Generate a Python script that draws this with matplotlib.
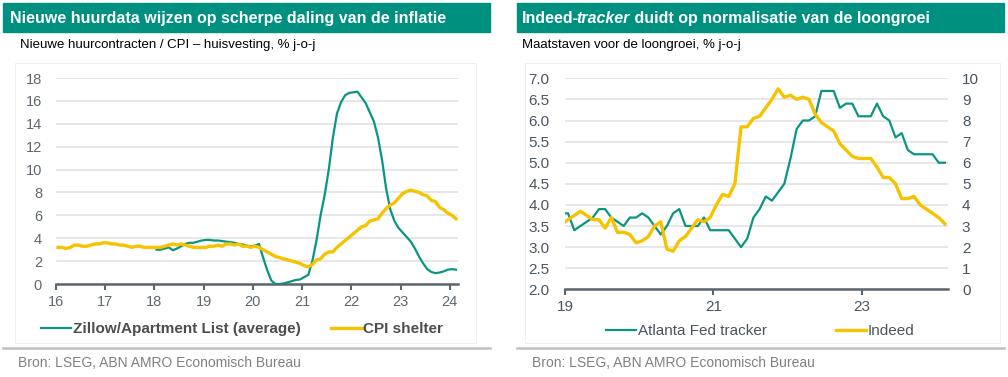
import numpy as np
import matplotlib
matplotlib.use('Agg')
import matplotlib.pyplot as plt
from matplotlib.patches import Rectangle
from matplotlib.lines import Line2D

plt.rcParams['font.family'] = ['Liberation Sans', 'DejaVu Sans']

# ---- data: left chart (monthly, % y/y) ----
cpi_start = 2016  # Jan 2016 .. Feb 2024
cpi_shelter = [3.2, 3.2, 3.1, 3.2, 3.4, 3.4, 3.3, 3.3, 3.4, 3.5, 3.5, 3.6,
               3.6, 3.5, 3.5, 3.4, 3.4, 3.3, 3.2, 3.3, 3.3, 3.2, 3.2, 3.2,
               3.2, 3.2, 3.3, 3.4, 3.5, 3.4, 3.5, 3.4, 3.3, 3.2, 3.2, 3.2,
               3.2, 3.3, 3.3, 3.4, 3.3, 3.5, 3.5, 3.4, 3.5, 3.3, 3.3, 3.2,
               3.3, 3.2, 3.0, 2.8, 2.6, 2.4, 2.3, 2.2, 2.1, 2.0, 1.9, 1.8,
               1.6, 1.5, 1.7, 2.1, 2.2, 2.6, 2.8, 2.8, 3.2, 3.5, 3.8, 4.1,
               4.4, 4.7, 5.0, 5.1, 5.5, 5.6, 5.7, 6.2, 6.6, 6.9, 7.1, 7.5,
               7.9, 8.1, 8.2, 8.1, 8.0, 7.8, 7.7, 7.3, 7.2, 6.7, 6.5, 6.2,
               6.0, 5.7]
zillow_start = 2018  # Jan 2018 .. Feb 2024
zillow = [3.0, 3.0, 3.1, 3.2, 2.95, 3.1, 3.3, 3.5, 3.6, 3.6, 3.7, 3.8,
          3.85, 3.85, 3.8, 3.8, 3.75, 3.7, 3.65, 3.6, 3.5, 3.45, 3.35, 3.3,
          3.35, 3.5, 2.3, 1.2, 0.3, 0.0, 0.0, 0.05, 0.15, 0.25, 0.35, 0.4,
          0.6, 0.8, 2.0, 3.8, 6.0, 7.8, 10.0, 12.8, 14.9, 15.9, 16.5, 16.7,
          16.75, 16.8, 16.3, 15.8, 15.0, 14.2, 12.8, 10.8, 8.3, 6.5, 5.5, 4.9,
          4.5, 4.1, 3.7, 3.1, 2.4, 1.8, 1.3, 1.05, 0.95, 1.0, 1.1, 1.25,
          1.3, 1.25]
left_years = [2016, 2017, 2018, 2019, 2020, 2021, 2022, 2023, 2024]
left_labels = ['16', '17', '18', '19', '20', '21', '22', '23', '24']

# ---- data: right chart (monthly, % y/y), Dec 2018 .. Feb 2024 ----
wage_start = 2018 + 11 / 12
atlanta = [3.8,
           3.8, 3.4, 3.5, 3.6, 3.7, 3.9, 3.9, 3.7, 3.6, 3.5, 3.7, 3.7,
           3.8, 3.7, 3.5, 3.3, 3.5, 3.8, 3.9, 3.5, 3.5, 3.5, 3.7, 3.4,
           3.4, 3.4, 3.4, 3.2, 3.0, 3.2, 3.7, 3.9, 4.2, 4.1, 4.3, 4.5,
           5.1, 5.8, 6.0, 6.0, 6.1, 6.7, 6.7, 6.7, 6.3, 6.4, 6.4, 6.1,
           6.1, 6.1, 6.4, 6.1, 6.0, 5.6, 5.7, 5.3, 5.2, 5.2, 5.2, 5.2,
           5.0, 5.0]
indeed = [3.1,
          3.3, 3.5, 3.7, 3.5, 3.3, 3.3, 2.9, 3.4, 2.7, 2.7, 2.6, 2.2,
          2.3, 2.5, 3.0, 3.2, 1.9, 1.8, 2.3, 2.5, 2.9, 3.3, 3.2, 3.4,
          4.0, 4.5, 4.4, 5.0, 7.7, 7.7, 8.1, 8.2, 8.6, 9.0, 9.5, 9.1,
          9.2, 9.0, 9.1, 9.0, 8.3, 7.9, 7.7, 7.5, 6.9, 6.6, 6.3, 6.2,
          6.2, 6.2, 5.8, 5.3, 5.3, 5.0, 4.3, 4.3, 4.4, 4.0, 3.8, 3.6,
          3.4, 3.1]
right_years = [2019, 2021, 2023]
right_labels = ['19', '21', '23']

GREEN = '#0a9582'
YELLOW = '#f6c300'
BAR = '#009080'
AXC = '#5a6670'
TXT = '#5e6870'
GRID = '#e3e3e3'

W, H = 1008, 377
fig = plt.figure(figsize=(W / 100, H / 100), dpi=100)


def fx(px):
    return px / W


def fy(py):
    return 1 - py / H


def months(start, n):
    return start + (np.arange(n) + 0.5) / 12


# title bars
for x0, x1 in [(3, 490), (517, 1004)]:
    fig.patches.append(Rectangle((fx(x0), fy(32)), fx(x1 - x0), (32 - 3) / H,
                                 transform=fig.transFigure, color=BAR, zorder=0))
# faint frames
for x0, x1 in [(15, 476), (525, 1000)]:
    fig.patches.append(Rectangle((fx(x0), fy(343)), fx(x1 - x0), (343 - 63) / H,
                                 transform=fig.transFigure, fill=False,
                                 edgecolor='#f0f0f0', lw=0.8, zorder=0))
# bottom separators
for x0, x1 in [(3, 490), (517, 1004)]:
    fig.lines.append(Line2D([fx(x0), fx(x1)], [fy(348), fy(348)],
                            transform=fig.transFigure, color='#c0c0c0', lw=1.8))

fig.text(fx(10), fy(18), 'Nieuwe huurdata wijzen op scherpe daling van de inflatie',
         color='white', fontsize=11.5, fontweight='bold', va='center')

r = fig.canvas.get_renderer()
tx = fx(522)
for part, style, nudge in [('Indeed-', 'normal', 0), ('tracker', 'italic', -2.5),
                           (' duidt op normalisatie van de loongroei', 'normal', 0)]:
    t = fig.text(tx + fx(nudge), fy(23), part, color='white', fontsize=11.5,
                 fontweight='bold', style=style, va='baseline')
    bb = t.get_window_extent(r)
    tx = bb.x1 / fig.dpi / fig.get_figwidth()

fig.text(fx(20), fy(45), 'Nieuwe huurcontracten / CPI \u2013 huisvesting, % j-o-j',
         color='black', fontsize=9.5, va='center')
fig.text(fx(522), fy(45), 'Maatstaven voor de loongroei, % j-o-j',
         color='black', fontsize=9.5, va='center')
for x in [18, 532]:
    fig.text(fx(x), fy(363), 'Bron: LSEG, ABN AMRO Economisch Bureau',
             color='#808080', fontsize=10, va='center')


def style_axis(ax):
    for s in ['top', 'left', 'right']:
        ax.spines[s].set_visible(False)
    ax.spines['bottom'].set_color(AXC)
    ax.spines['bottom'].set_linewidth(1.8)
    ax.tick_params(axis='x', direction='out', length=4, width=1.5, color=AXC,
                   labelcolor=TXT, labelsize=10.5, pad=4)
    ax.tick_params(axis='y', length=0, labelcolor=TXT, labelsize=10.5, pad=10)
    ax.grid(axis='y', color=GRID, lw=1.2)
    ax.set_axisbelow(True)
    ax.set_facecolor('none')


# ---- left chart ----
ax1 = fig.add_axes([fx(56), fy(284), fx(458 - 56), (284 - 78) / H])
style_axis(ax1)
ax1.plot(months(zillow_start, len(zillow)), zillow, color=GREEN, lw=1.6,
         label='Zillow/Apartment List (average)', zorder=3)
ax1.plot(months(cpi_start, len(cpi_shelter)), cpi_shelter, color=YELLOW, lw=2.4,
         label='CPI shelter', zorder=3)
ax1.set_xlim(2016, 2024 + 2 / 12)
ax1.set_ylim(0, 18)
ax1.set_yticks(np.arange(0, 19, 2))
ax1.set_xticks(left_years)
ax1.set_xticklabels(left_labels)
ax1.legend(loc='center', bbox_to_anchor=(fx(242), fy(329)),
           bbox_transform=fig.transFigure, ncol=2, frameon=False,
           handlelength=2.0, handletextpad=0.1, columnspacing=2.0,
           prop={'weight': 'bold', 'size': 11}, labelcolor='#4d4d4d')

# ---- right chart ----
ax2 = fig.add_axes([fx(565), fy(289.3), fx(948 - 565), (289.3 - 78.3) / H])
style_axis(ax2)
ax2.plot(months(wage_start, len(atlanta)), atlanta, color=GREEN, lw=1.6,
         label='Atlanta Fed tracker', zorder=3)
ax2.set_xlim(2019, 2024 + 2 / 12)
ax2.set_ylim(2, 7)
ax2.set_yticks(np.arange(2, 7.01, 0.5))
ax2.set_yticklabels(['%.1f' % v for v in np.arange(2, 7.01, 0.5)])
ax2.set_xticks(right_years)
ax2.set_xticklabels(right_labels)
ax2.tick_params(axis='y', pad=11, labelcolor='#4a5560', labelsize=11)
ax2.tick_params(axis='x', labelcolor='#4a5560', labelsize=11)

ax3 = ax2.twinx()
for s in ['top', 'left', 'right', 'bottom']:
    ax3.spines[s].set_visible(False)
ax3.plot(months(wage_start, len(indeed)), indeed, color=YELLOW, lw=2.4,
         label='Indeed', zorder=3)
ax3.set_ylim(0, 10)
ax3.set_yticks(range(0, 11))
ax3.tick_params(axis='y', length=0, labelcolor='#4a5560', labelsize=11, pad=10)

h1, l1 = ax2.get_legend_handles_labels()
h2, l2 = ax3.get_legend_handles_labels()
ax3.legend(h1 + h2, l1 + l2, loc='center', bbox_to_anchor=(fx(760), fy(331)),
           bbox_transform=fig.transFigure, ncol=2, frameon=False,
           handlelength=2.0, handletextpad=0.1, columnspacing=4.5,
           prop={'size': 11}, labelcolor='#4a5560')

fig.savefig('out.png', dpi=100)
